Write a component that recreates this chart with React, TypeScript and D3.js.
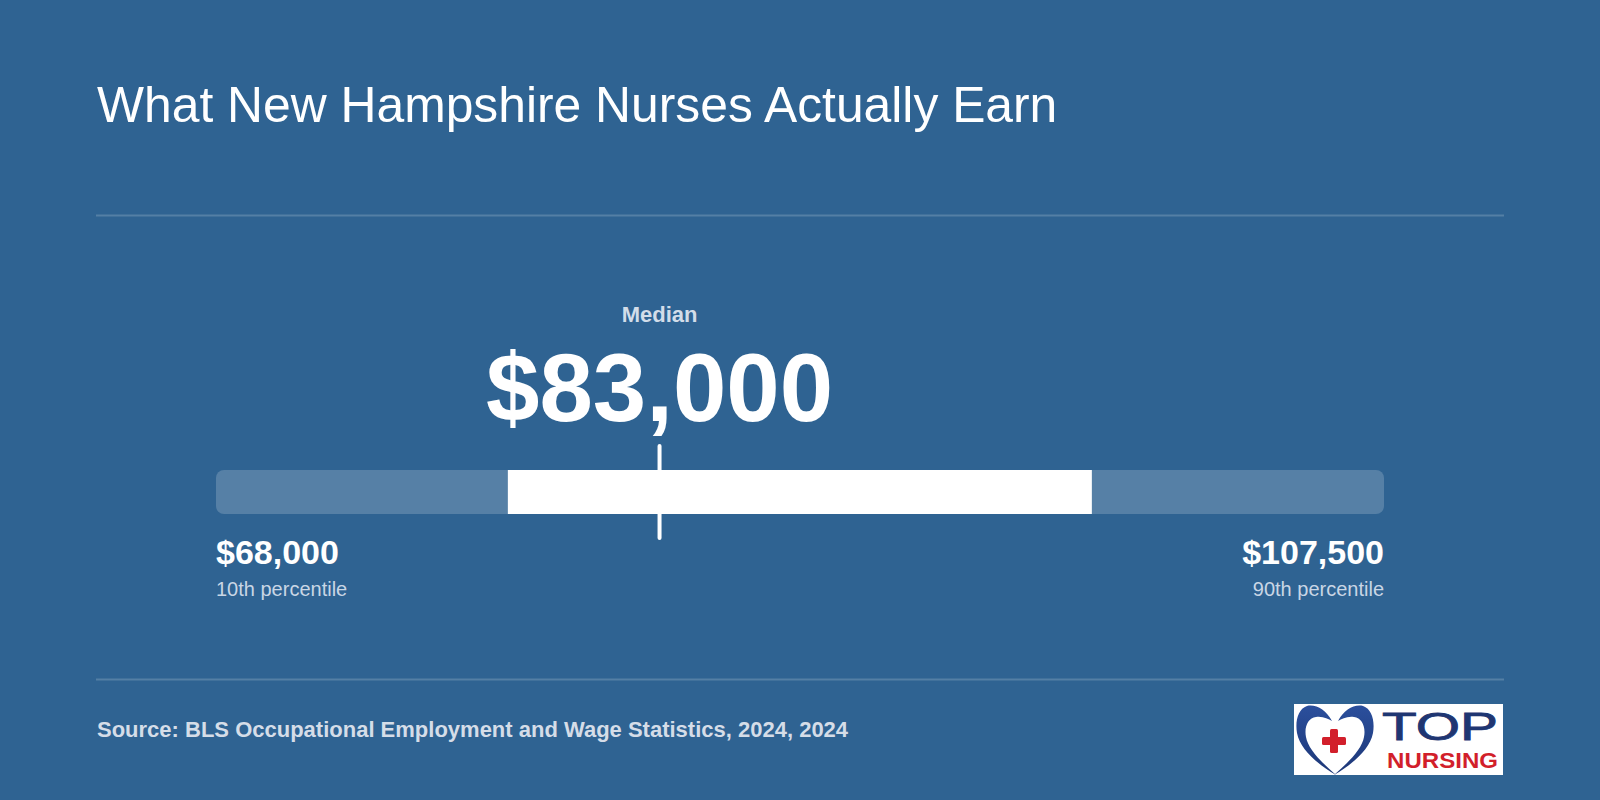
import React from "react";
import * as d3 from "d3";

// ---- data ----
const title = "What New Hampshire Nurses Actually Earn";
const percentileLabels = ["10th percentile", "25th percentile", "Median", "75th percentile", "90th percentile"];
const percentileValues = [68000, 77870, 83000, 97620, 107500];
const sourceText = "Source: BLS Occupational Employment and Wage Statistics, 2024, 2024";

const W = 1600;
const H = 800;
const BG = "#2F6392";
const FONT = "'Liberation Sans', Arial, Helvetica, sans-serif";

export default function App() {
  const [p10, p25, med, p75, p90] = percentileValues;
  const x = d3.scaleLinear().domain([p10, p90]).range([216, 1384]);
  const fmt = (v: number) => "$" + d3.format(",")(v);
  const barY = 470;
  const barH = 44;

  // heart half path (left), local coords
  const heartHalf =
    "M36,16 C30,5 20,-1 11,1 C2,4 -1,16 1,28 C4,44 20,58 40,70 C26,58 12,44 10,32 C8,22 12,13 20,12 C27,11 32,14 36,16 Z";

  return (
    <svg
      width={W}
      height={H}
      style={{ position: "absolute", left: 0, top: 0, display: "block" }}
      fontFamily={FONT}
    >
      <rect x={0} y={0} width={W} height={H} fill={BG} />
      <text x={97} y={122} fill="#ffffff" fontSize={49.8} fontWeight={400}>
        {title}
      </text>
      <line x1={96} x2={1504} y1={215.5} y2={215.5} stroke="rgba(255,255,255,0.18)" strokeWidth={2} />
      <line x1={96} x2={1504} y1={679.5} y2={679.5} stroke="rgba(255,255,255,0.18)" strokeWidth={2} />

      {/* track */}
      <rect x={x(p10)} y={barY} width={x(p90) - x(p10)} height={barH} rx={8} fill="rgba(255,255,255,0.19)" />
      {/* IQR bar */}
      <rect x={x(p25)} y={barY} width={x(p75) - x(p25)} height={barH} fill="#ffffff" />
      {/* median line */}
      <line
        x1={x(med)}
        x2={x(med)}
        y1={barY - 24}
        y2={barY + barH + 24}
        stroke="#ffffff"
        strokeWidth={4}
        strokeLinecap="round"
      />
      <text x={x(med)} y={322} textAnchor="middle" fill="#d3dde9" fontSize={22} fontWeight={700}>
        {percentileLabels[2]}
      </text>
      <text x={x(med)} y={421} textAnchor="middle" fill="#ffffff" fontSize={96} fontWeight={700}>
        {fmt(med)}
      </text>

      <text x={x(p10)} y={564} fill="#ffffff" fontSize={34} fontWeight={700}>
        {fmt(p10)}
      </text>
      <text x={x(p10)} y={596} fill="#c9d6e5" fontSize={20}>
        {percentileLabels[0]}
      </text>
      <text x={x(p90)} y={564} textAnchor="end" fill="#ffffff" fontSize={34} fontWeight={700}>
        {fmt(p90)}
      </text>
      <text x={x(p90)} y={596} textAnchor="end" fill="#c9d6e5" fontSize={20}>
        {percentileLabels[4]}
      </text>

      <text x={97} y={737} fill="#d5dde8" fontSize={22} fontWeight={700}>
        {sourceText}
      </text>

      {/* logo */}
      <g transform="translate(1294,704)">
        <rect x={0} y={0} width={209} height={71} fill="#ffffff" />
        <defs>
          <linearGradient id="hg" x1="0" y1="0" x2="0" y2="1">
            <stop offset="0" stopColor="#2b4f9c" />
            <stop offset="1" stopColor="#1d3777" />
          </linearGradient>
        </defs>
        <g transform="translate(2,1)">
          <path d={heartHalf} fill="url(#hg)" />
          <path d={heartHalf} fill="url(#hg)" transform="translate(78,0) scale(-1,1)" />
          <rect x={34} y={24} width={8} height={24} rx={1.5} fill="#d21f2b" />
          <rect x={26} y={32} width={24} height={8} rx={1.5} fill="#d21f2b" />
        </g>
        <text x={88} y={36} fill="#1f3672" fontSize={39} fontWeight={400} textLength={116} lengthAdjust="spacingAndGlyphs" stroke="#1f3672" strokeWidth={0.8}>
          TOP
        </text>
        <text x={93} y={64} fill="#d21f2b" fontSize={22} fontWeight={700} textLength={111} lengthAdjust="spacingAndGlyphs">
          NURSING
        </text>
      </g>
    </svg>
  );
}
